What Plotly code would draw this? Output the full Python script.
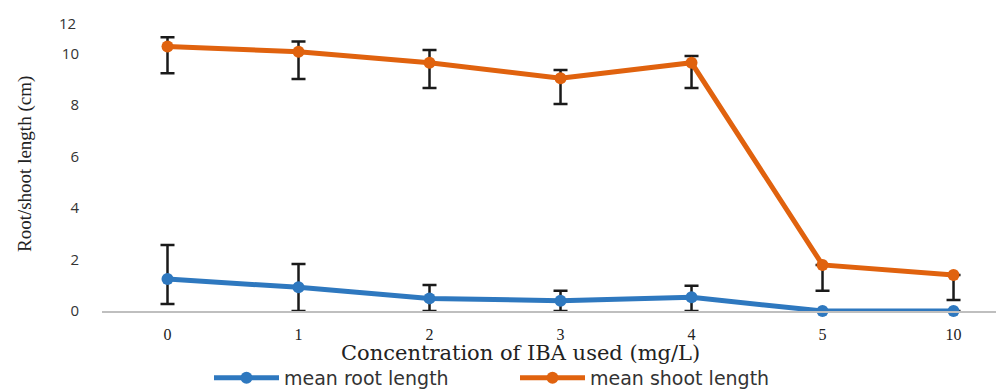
import plotly.graph_objects as go

categories = ["0", "1", "2", "3", "4", "5", "10"]
root_mean = [1.24, 0.92, 0.49, 0.40, 0.53, 0.0, 0.0]
root_err_plus = [1.32, 0.91, 0.52, 0.39, 0.45, 0.0, 0.0]
root_err_minus = [0.97, 0.92, 0.49, 0.40, 0.53, 0.0, 0.0]
shoot_mean = [10.27, 10.07, 9.64, 9.04, 9.64, 1.79, 1.40]
shoot_err_plus = [0.36, 0.40, 0.50, 0.32, 0.26, 0.0, 0.0]
shoot_err_minus = [1.04, 1.06, 0.98, 1.00, 0.98, 1.00, 0.97]
y_ticks = [0, 2, 4, 6, 8, 10]

blue = "#2e78bf"
orange = "#e0620e"

W, H = 996, 384
L, R, T, B = 94, 2, 0, 81
PW, PH = W - L - R, H - T - B

fig = go.Figure()
for name, ys, ep, em, col in [
    ("mean root length", root_mean, root_err_plus, root_err_minus, blue),
    ("mean shoot length", shoot_mean, shoot_err_plus, shoot_err_minus, orange),
]:
    fig.add_trace(go.Scatter(
        x=categories, y=ys, name=name, mode="lines+markers",
        line=dict(color=col, width=5),
        marker=dict(color=col, size=12),
        error_y=dict(type="data", symmetric=False, array=ep, arrayminus=em,
                     color="#1a1a1a", thickness=2.5, width=7),
        cliponaxis=False,
    ))

fig.update_layout(
    width=W, height=H,
    margin=dict(l=L, r=R, t=T, b=B, autoexpand=False),
    paper_bgcolor="white", plot_bgcolor="white",
    showlegend=True,
    legend=dict(orientation="h", x=(207 - 6 - L) / PW, xref="paper", y=-(351 - PH) / PH, yref="paper",
                xanchor="left", yanchor="top",
                font=dict(family="DejaVu Sans, Arial", size=19, color="#333"),
                itemwidth=65, entrywidth=226, entrywidthmode="pixels", tracegroupgap=0),
    xaxis=dict(type="category", range=[-0.5, 6.37], showgrid=False, automargin=False,
               showline=True, linecolor="#bfbfbf", linewidth=2,
               ticks="", tickfont=dict(family="Liberation Serif, Times New Roman", size=16, color="#222"),
               ticklabelstandoff=8, zeroline=False),
    yaxis=dict(range=[0, PH / 25.75], tickvals=y_ticks, showgrid=False, zeroline=False,
               automargin=False, showline=False, ticks="",
               tickfont=dict(family="Open Sans, DejaVu Sans", size=15, color="#333"),
               ticklabelstandoff=22),
)
fig.add_annotation(text="12", xref="paper", yref="paper", x=(70 - L) / PW, y=(PH - 15) / PH,
                   xanchor="right", yanchor="middle", showarrow=False,
                   font=dict(family="Open Sans, DejaVu Sans", size=15, color="#333"))
fig.add_annotation(text="Root/shoot length (cm)", xref="paper", yref="paper",
                   x=(17 - L) / PW, y=(PH - 156) / PH, xanchor="center", yanchor="middle",
                   textangle=-90, showarrow=False,
                   font=dict(family="Liberation Serif, Times New Roman", size=19, color="#222"))
fig.add_annotation(text="Concentration of IBA used (mg/L)", xref="paper", yref="paper",
                   x=(512 - L) / PW, y=(PH - 345) / PH, xanchor="center", yanchor="middle",
                   showarrow=False,
                   font=dict(family="DejaVu Serif, Times New Roman", size=21, color="#222"))

fig.write_html("out.html")
